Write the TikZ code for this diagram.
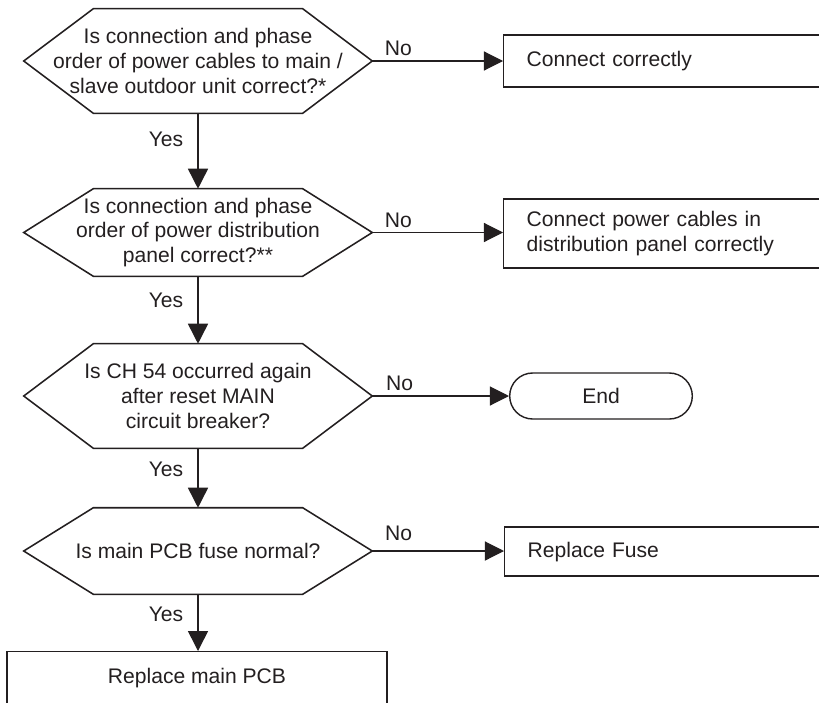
\documentclass[tikz,border=0pt]{standalone}
\usepackage{fontspec}
\setmainfont{Liberation Sans}
\usetikzlibrary{positioning,arrows.meta,shapes.misc}
\definecolor{ink}{HTML}{231F20}
\begin{document}
\begin{tikzpicture}[
    font=\fontsize{15}{17.5}\selectfont,
    every node/.style={text=ink},
    test/.style={align=center, minimum width=8.7cm, inner sep=0pt},
    action/.style={draw=ink, line width=1pt, anchor=west, minimum width=10cm, text width=8.85cm, align=left, inner xsep=0.575cm},
    flow/.style={draw=ink, line width=1.1pt, -{Triangle[length=0.5cm,width=0.5cm]}},
    branch/.style={draw=ink, line width=0.8pt, -{Triangle[length=0.48cm,width=0.48cm]}},
    yes/.style={left=0.35cm, inner sep=0pt, pos=0.35},
    no/.style={pos=0.2, above}
    ]
    \clip (0,0) rectangle (20.475,-17.55);
    \node[test, minimum height=2.6cm] (q1) at (4.95,-1.525) {Is connection and phase\\order of power cables to main /\\slave outdoor unit correct?*};
    \node[test, minimum height=2.175cm] (q2) at (4.95,-5.8125) {Is connection and phase\\order of power distribution\\panel correct?**};
    \node[test, minimum height=2.6cm] (q3) at (4.95,-9.9) {Is CH 54 occurred again\\after reset MAIN\\circuit breaker?};
    \node[test, minimum height=2.15cm] (q4) at (4.95,-13.775) {Is main PCB fuse normal?};
    \foreach \q in {q1,q2,q3,q4}
        \draw[ink, line width=1.1pt] (\q.west) -- ([xshift=1.74cm]\q.north west) -- ([xshift=-1.74cm]\q.north east)
            -- (\q.east) -- ([xshift=-1.74cm]\q.south east) -- ([xshift=1.74cm]\q.south west) -- cycle;
    \node[action, minimum height=1.3cm] (fix1) at (12.575,-1.525) {Connect correctly};
    \node[action, minimum height=1.725cm] (fix2) at (12.575,-5.8375) {Connect power cables in\\distribution panel correctly};
    \node[draw=ink, line width=1pt, rounded rectangle, minimum width=4.8cm, minimum height=1.15cm] (stop) at (15.025,-9.9) {End};
    \node[action, minimum height=1.225cm] (fuse) at (12.6,-13.79) {Replace Fuse};
    \node[draw=ink, line width=1pt, anchor=north, minimum width=9.5cm, text height=0.38cm, text depth=0.8cm, inner ysep=0.42cm] (pcb) at (4.925,-16.275) {Replace main PCB};
    \draw[flow] (q1.south) -- node[yes] {Yes} (q2.north);
    \draw[flow] (q2.south) -- node[yes] {Yes} (q3.north);
    \draw[flow] (q3.south) -- node[yes] {Yes} (q4.north);
    \draw[flow] (q4.south) -- node[yes] {Yes} (q4.south |- pcb.north);
    \draw[branch] (q1.east) -- node[no] {No} (fix1.west |- q1.east);
    \draw[branch] (q2.east) -- node[no] {No} (fix2.west |- q2.east);
    \draw[branch] (q3.east) -- node[no] {No} (stop.west);
    \draw[branch] (q4.east) -- node[no, yshift=0.13cm] {No} (fuse.west |- q4.east);
\end{tikzpicture}
\end{document}
